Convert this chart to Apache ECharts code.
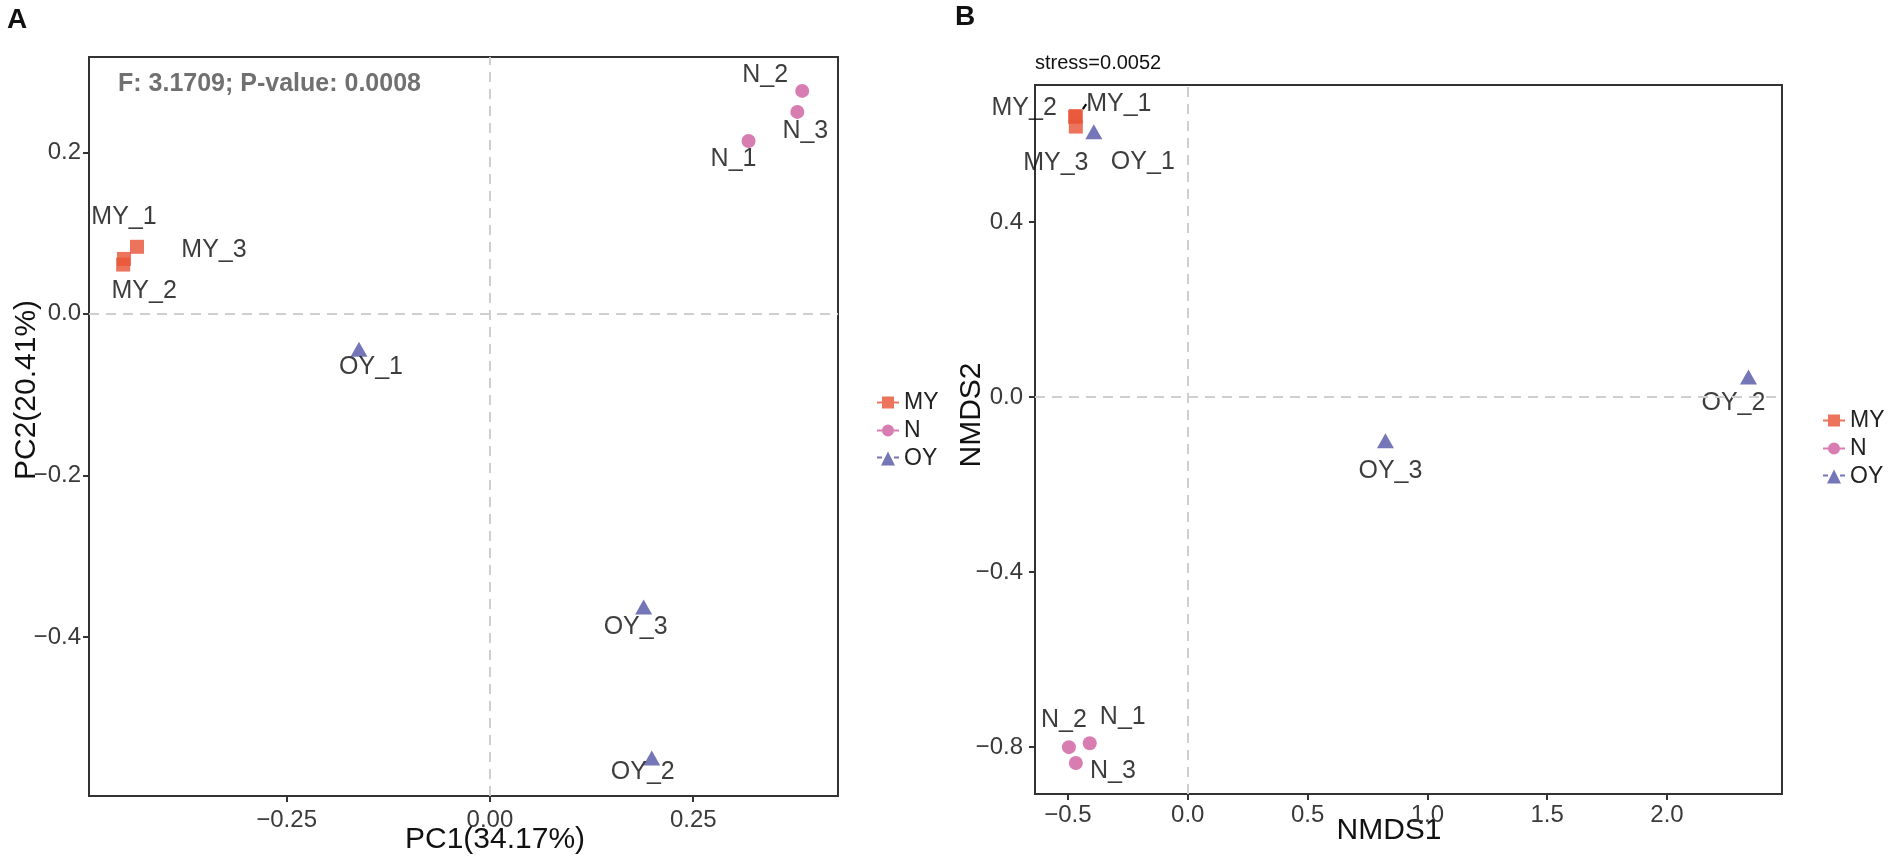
<!DOCTYPE html>
<html>
<head>
<meta charset="utf-8">
<script src="https://cdn.jsdelivr.net/npm/echarts@6/dist/echarts.min.js"></script>
<style>
  html, body { margin: 0; padding: 0; background: #fff; }
  #main { width: 1901px; height: 861px; }
</style>
</head>
<body>
<div id="main"></div>
<script>
// groups and sample names
var groups = ["MY", "N", "OY"];
var sampleMY = ["MY_1", "MY_2", "MY_3"];
var sampleN = ["N_1", "N_2", "N_3"];
var sampleOY = ["OY_1", "OY_2", "OY_3"];

// panel A: PCoA coordinates
var pcaX_MY = [-0.450, -0.451, -0.434];
var pcaY_MY = [0.068, 0.061, 0.083];
var pcaX_N = [0.318, 0.384, 0.378];
var pcaY_N = [0.214, 0.276, 0.250];
var pcaX_OY = [-0.161, 0.199, 0.189];
var pcaY_OY = [-0.044, -0.550, -0.363];

// panel B: NMDS coordinates
var nmdsX_MY = [-0.467, -0.470, -0.467];
var nmdsY_MY = [0.642, 0.640, 0.618];
var nmdsX_N = [-0.409, -0.496, -0.467];
var nmdsY_N = [-0.791, -0.800, -0.836];
var nmdsX_OY = [-0.392, 2.340, 0.825];
var nmdsY_OY = [0.606, 0.046, -0.100];

// tick labels
var pcaXTicks = [-0.25, 0, 0.25];
var pcaYTicks = [-0.4, -0.2, 0, 0.2];
var nmdsXTicks = [-0.5, 0, 0.5, 1.0, 1.5, 2.0];
var nmdsYTicks = [-0.8, -0.4, 0, 0.4];

// label placement (pixels, repel-like)
var labelOffsetA = {
  MY_1: [0, -42], MY_2: [21, 27], MY_3: [77, 3],
  N_1: [-15, 18], N_2: [-37, -16], N_3: [8, 19],
  OY_1: [12, 18], OY_2: [-9, 14], OY_3: [-8, 20]
};
var labelOffsetB = {
  MY_1: [43, -12], MY_2: [-51, -9], MY_3: [-20, 37],
  N_1: [33, -26], N_2: [-5, -27], N_3: [37, 8],
  OY_1: [49, 30], OY_2: [-15, 26], OY_3: [5, 30]
};
// labels that get a repel segment
var segmentLabels = ["MY_1"];

var colors = { MY: "#E95638", N: "#D060A0", OY: "#5558A8" };
var symbols = { MY: "rect", N: "circle", OY: "triangle" };
var symbolSizes = { MY: 14, N: 14, OY: [17, 15] };
var FONT = "'Liberation Sans', Arial, sans-serif";

function minus(s) { return String(s).replace("-", "\u2212"); }

function buildData(names, xs, ys, withSegments) {
  return names.map(function (n, i) {
    var item = { name: n, value: [xs[i], ys[i]] };
    if (withSegments && segmentLabels.indexOf(n) >= 0) {
      item.labelLine = { show: true, lineStyle: { color: "#000", width: 2 } };
    }
    return item;
  });
}

function makeSeries(group, names, xs, ys, offsets, axisIndex) {
  return {
    name: group,
    type: "scatter",
    xAxisIndex: axisIndex,
    yAxisIndex: axisIndex,
    symbol: symbols[group],
    symbolSize: symbolSizes[group],
    itemStyle: { color: colors[group], opacity: 0.82 },
    label: {
      show: true,
      position: "inside",
      formatter: "{b}",
      fontFamily: FONT,
      fontSize: 25,
      color: "#111"
    },
    labelLine: { show: false },
    labelLayout: function (p) {
      var o = offsets[p.text] || [0, 0];
      return { dx: o[0], dy: o[1] };
    },
    emphasis: { disabled: true },
    z: 3,
    data: buildData(names, xs, ys, axisIndex === 1)
  };
}

function zeroLines() {
  return {
    silent: true,
    symbol: ["none", "none"],
    label: { show: false },
    lineStyle: { type: [10, 7], color: "#cfcfcf", width: 2 },
    data: [{ xAxis: 0 }, { yAxis: 0 }]
  };
}

function valueAxis(min, max, ticks, fmt, margin) {
  return {
    type: "value",
    min: min,
    max: max,
    axisLine: { show: false, onZero: false },
    splitLine: { show: false },
    axisTick: {
      show: true, length: 6, customValues: ticks,
      lineStyle: { color: "#333", width: 2 }
    },
    axisLabel: {
      customValues: ticks,
      margin: margin,
      fontFamily: FONT,
      fontSize: 24,
      color: "#3a3a3a",
      formatter: function (v) { return minus(fmt(v)); }
    }
  };
}

var seriesList = [
  makeSeries("MY", sampleMY, pcaX_MY, pcaY_MY, labelOffsetA, 0),
  makeSeries("N", sampleN, pcaX_N, pcaY_N, labelOffsetA, 0),
  makeSeries("OY", sampleOY, pcaX_OY, pcaY_OY, labelOffsetA, 0),
  makeSeries("MY", sampleMY, nmdsX_MY, nmdsY_MY, labelOffsetB, 1),
  makeSeries("N", sampleN, nmdsX_N, nmdsY_N, labelOffsetB, 1),
  makeSeries("OY", sampleOY, nmdsX_OY, nmdsY_OY, labelOffsetB, 1)
];
seriesList[0].markLine = zeroLines();
seriesList[3].markLine = zeroLines();

// legend icons: marker with a short key line through it
var legendIcons = {
  MY: "path://M0,6H5V1H17V6H22V8H17V13H5V8H0Z",
  N: "path://M0,6H22V8H0Z M11,1A6,6 0 1 1 10.99,1Z",
  OY: "path://M0,5H5V7H0Z M17,5H22V7H17Z M11,0L18,14L4,14Z"
};
function legendData() {
  return groups.map(function (g) { return { name: g, icon: legendIcons[g] }; });
}
function legendAt(left, top) {
  return {
    orient: "vertical",
    left: left,
    top: top,
    itemWidth: 22,
    itemHeight: 14,
    itemGap: 5,
    selectedMode: false,
    textStyle: { fontFamily: FONT, fontSize: 23, color: "#222" },
    data: legendData()
  };
}

function txt(x, y, text, size, opts) {
  opts = opts || {};
  return {
    type: "text",
    x: x,
    y: y,
    rotation: opts.rotation || 0,
    silent: true,
    style: {
      text: text,
      fontFamily: FONT,
      fontSize: size,
      fontWeight: opts.bold ? "bold" : "normal",
      fill: opts.color || "#111",
      align: opts.align || "center",
      verticalAlign: opts.valign || "middle"
    }
  };
}

var myChart = echarts.init(document.getElementById("main"));

var option = {
  backgroundColor: "#fff",
  animation: false,
  grid: [
    { left: 89, top: 57, width: 749, height: 739, show: true, borderColor: "#333", borderWidth: 2 },
    { left: 1035, top: 85, width: 747, height: 709, show: true, borderColor: "#333", borderWidth: 2 }
  ],
  xAxis: [
    Object.assign(valueAxis(-0.493, 0.428, pcaXTicks, function (v) { return v.toFixed(2); }, 12), { gridIndex: 0 }),
    Object.assign(valueAxis(-0.6375, 2.48, nmdsXTicks, function (v) { return v.toFixed(1); }, 9), { gridIndex: 1 })
  ],
  yAxis: [
    Object.assign(valueAxis(-0.597, 0.318, pcaYTicks, function (v) { return v.toFixed(1); }, 8), { gridIndex: 0 }),
    Object.assign(valueAxis(-0.907, 0.713, nmdsYTicks, function (v) { return v.toFixed(1); }, 12), { gridIndex: 1 })
  ],
  legend: [legendAt(872, 386), legendAt(1818, 404)],
  graphic: [
    txt(7, 20, "A", 28, { bold: true, align: "left" }),
    txt(955, 17, "B", 28, { bold: true, align: "left" }),
    txt(118, 84, "F: 3.1709; P-value: 0.0008", 25, { bold: true, color: "#707070", align: "left" }),
    txt(1035, 63, "stress=0.0052", 20, { align: "left" }),
    txt(495, 840, "PC1(34.17%)", 30),
    txt(27, 390, "PC2(20.41%)", 30, { rotation: Math.PI / 2 }),
    txt(1389, 831, "NMDS1", 30),
    txt(972, 415, "NMDS2", 30, { rotation: Math.PI / 2 })
  ],
  series: seriesList
};

myChart.setOption(option);
</script>
</body>
</html>
